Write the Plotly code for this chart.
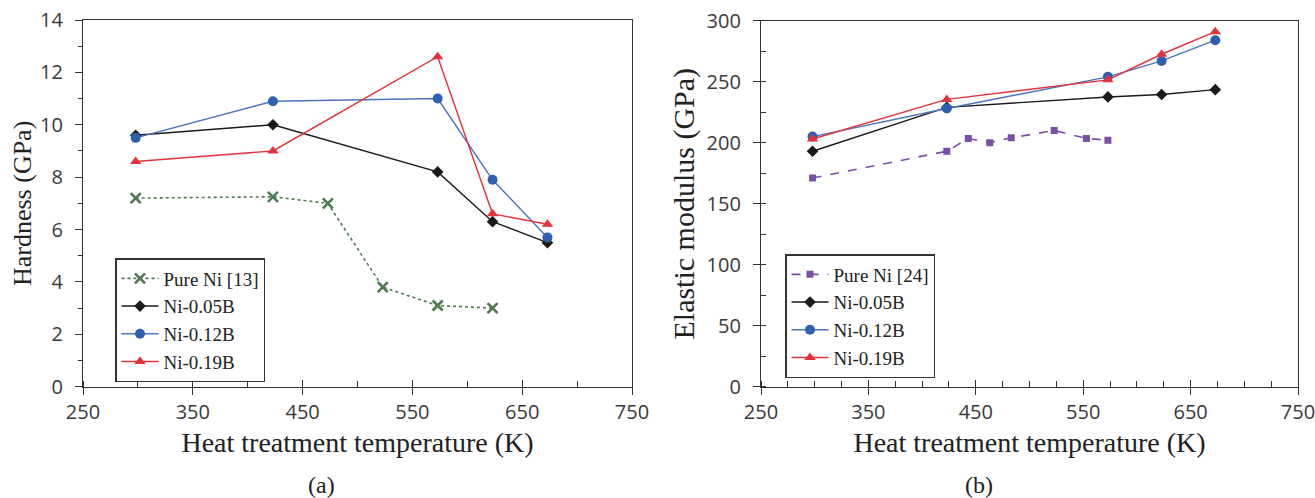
import plotly.graph_objects as go

# Heat treatment temperatures (K)
temps_b_alloys = [298, 423, 573, 623, 673]
temps_pure_ni_hardness = [298, 423, 473, 523, 573, 623]
temps_pure_ni_modulus = [298, 423, 443, 463, 483, 523, 553, 573]

# (a) Hardness (GPa)
hardness_pure_ni = [7.2, 7.25, 7.0, 3.8, 3.1, 3.0]
hardness_ni_005b = [9.6, 10.0, 8.2, 6.3, 5.5]
hardness_ni_012b = [9.5, 10.9, 11.0, 7.9, 5.7]
hardness_ni_019b = [8.6, 9.0, 12.6, 6.6, 6.2]

# (b) Elastic modulus (GPa)
modulus_pure_ni = [171, 193, 203.5, 200, 204, 210, 203.5, 202]
modulus_ni_005b = [193, 229, 237.5, 239.5, 243.5]
modulus_ni_012b = [205, 228, 254, 267, 284]
modulus_ni_019b = [203, 235.5, 251.5, 272.5, 291]

x_ticks = [250, 350, 450, 550, 650, 750]

W, H = 1315, 498
SERIF = "Liberation Serif, Times New Roman, serif"
SANS = "Open Sans, sans-serif"
AXIS_COLOR = "#333333"

BLACK = "#1a1a1a"
BLUE_LINE = "#4a74bd"
BLUE_MARK = "#2f5fae"
RED = "#e0333c"
GREEN = "#4f7a4f"
PURPLE = "#7a4fa6"

fig = go.Figure()


def add_series(x, y, name, xa, ya, legend, color, mcolor, symbol, msize, dash="solid", lwidth=1.4, mline=None):
    marker = dict(symbol=symbol, size=msize, color=mcolor)
    if mline:
        marker["line"] = mline
    fig.add_trace(go.Scatter(
        x=x, y=y, name=name, mode="lines+markers",
        xaxis=xa, yaxis=ya, legend=legend, legendgroup=f"{legend}-{name}",
        line=dict(color=color, width=lwidth, dash=dash),
        marker=marker,
    ))


# Panel (a)
add_series(temps_pure_ni_hardness, hardness_pure_ni, "Pure Ni [13]", "x", "y", "legend",
           GREEN, GREEN, "x-thin", 10, dash="dot", lwidth=1.6, mline=dict(color=GREEN, width=2.6))
add_series(temps_b_alloys, hardness_ni_005b, "Ni-0.05B", "x", "y", "legend",
           BLACK, BLACK, "diamond", 9)
add_series(temps_b_alloys, hardness_ni_012b, "Ni-0.12B", "x", "y", "legend",
           BLUE_LINE, BLUE_MARK, "circle", 10)
add_series(temps_b_alloys, hardness_ni_019b, "Ni-0.19B", "x", "y", "legend",
           RED, RED, "triangle-up", 10)

# Panel (b)
add_series(temps_pure_ni_modulus, modulus_pure_ni, "Pure Ni [24]", "x2", "y2", "legend2",
           PURPLE, PURPLE, "square", 7, dash="dash", lwidth=1.6)
add_series(temps_b_alloys, modulus_ni_005b, "Ni-0.05B", "x2", "y2", "legend2",
           BLACK, BLACK, "diamond", 9)
add_series(temps_b_alloys, modulus_ni_012b, "Ni-0.12B", "x2", "y2", "legend2",
           BLUE_LINE, BLUE_MARK, "circle", 10)
add_series(temps_b_alloys, modulus_ni_019b, "Ni-0.19B", "x2", "y2", "legend2",
           RED, RED, "triangle-up", 10)

# Plot areas in pixels
left_x0, left_x1 = 83, 632
right_x0, right_x1 = 761, 1298
top_a, top_b, bottom = 20, 20.7, 386.7


def px_x(p):
    return p / W


def px_y(p):
    return 1 - p / H


common_x = dict(
    range=[250, 750], tickvals=x_ticks, ticks="outside", ticklen=7, tickwidth=1.3,
    tickcolor=AXIS_COLOR, showline=True, linecolor=AXIS_COLOR, linewidth=1.3,
    mirror=True, showgrid=False, zeroline=False, automargin=False,
    ticklabeloverflow="allow",
    tickfont=dict(family=SANS, size=20, color="#3a3a3a"),
    title=dict(text="Heat treatment temperature (K)", font=dict(family=SERIF, size=28, color="#222"),
               standoff=8),
)

fig.update_layout(
    width=W, height=H, margin=dict(l=0, r=0, t=0, b=0, autoexpand=False),
    paper_bgcolor="white", plot_bgcolor="white",
    xaxis=dict(common_x, domain=[px_x(left_x0), px_x(left_x1)], anchor="y",
               minor=dict(dtick=50, tick0=250, ticks="inside", ticklen=6, tickcolor=AXIS_COLOR, tickwidth=1.2)),
    xaxis2=dict(common_x, domain=[px_x(right_x0), px_x(right_x1)], anchor="y2",
                minor=dict(dtick=25, tick0=250, ticks="inside", ticklen=6, tickcolor=AXIS_COLOR, tickwidth=1.2)),
    # inside halves of the major x ticks
    xaxis3=dict(overlaying="x", matches="x", anchor="y", range=[250, 750], tickvals=x_ticks,
                ticks="inside", ticklen=7, tickwidth=1.3, tickcolor=AXIS_COLOR, automargin=False,
                showticklabels=False, showgrid=False, zeroline=False, showline=False),
    xaxis4=dict(overlaying="x2", matches="x2", anchor="y2", range=[250, 750], tickvals=x_ticks,
                ticks="inside", ticklen=7, tickwidth=1.3, tickcolor=AXIS_COLOR, automargin=False,
                showticklabels=False, showgrid=False, zeroline=False, showline=False),
    yaxis=dict(
        domain=[px_y(bottom), px_y(top_a)], anchor="x", range=[0, 14], dtick=2,
        ticks="outside", ticklen=7, tickwidth=1.3, tickcolor=AXIS_COLOR,
        minor=dict(dtick=1, ticks="outside", ticklen=4, tickcolor=AXIS_COLOR, tickwidth=1.2),
        showline=True, linecolor=AXIS_COLOR, linewidth=1.3, mirror=True, automargin=False,
        showgrid=False, zeroline=False, ticklabelstandoff=8,
        tickfont=dict(family=SANS, size=20, color="#3a3a3a"),
        title=dict(text="Hardness (GPa)", font=dict(family=SERIF, size=26, color="#222"), standoff=0),
    ),
    yaxis2=dict(
        domain=[px_y(bottom), px_y(top_b)], anchor="x2", range=[0, 300], dtick=50,
        ticks="outside", ticklen=7, tickwidth=1.3, tickcolor=AXIS_COLOR,
        minor=dict(dtick=25, ticks="inside", ticklen=5, tickcolor=AXIS_COLOR, tickwidth=1.2),
        showline=True, linecolor=AXIS_COLOR, linewidth=1.3, mirror=True, automargin=False,
        showgrid=False, zeroline=False, ticklabelstandoff=8,
        tickfont=dict(family=SANS, size=20, color="#3a3a3a"),
        title=dict(text="Elastic modulus (GPa)", font=dict(family=SERIF, size=30, color="#222"), standoff=3),
    ),
    legend=dict(
        x=px_x(115), y=px_y(258), xanchor="left", yanchor="top",
        bordercolor="#333", borderwidth=1.5, bgcolor="white",
        font=dict(family=SERIF, size=19, color="#222"),
        itemwidth=37, tracegroupgap=0, traceorder="grouped",
    ),
    legend2=dict(
        x=px_x(785), y=px_y(254), xanchor="left", yanchor="top",
        bordercolor="#333", borderwidth=1.5, bgcolor="white",
        font=dict(family=SERIF, size=19, color="#222"),
        itemwidth=37, tracegroupgap=0, traceorder="grouped",
    ),
    showlegend=True,
)

# Empty traces so the overlay axes render their ticks
fig.add_trace(go.Scatter(x=[None], y=[None], xaxis="x3", yaxis="y", showlegend=False, hoverinfo="skip"))
fig.add_trace(go.Scatter(x=[None], y=[None], xaxis="x4", yaxis="y2", showlegend=False, hoverinfo="skip"))

for label, xc in (("(a)", 321), ("(b)", 979)):
    fig.add_annotation(
        x=px_x(xc), y=px_y(485), xref="paper", yref="paper",
        text=label, showarrow=False, xanchor="center", yanchor="middle",
        font=dict(family=SERIF, size=24, color="#222"),
    )

fig.write_html("out.html")
